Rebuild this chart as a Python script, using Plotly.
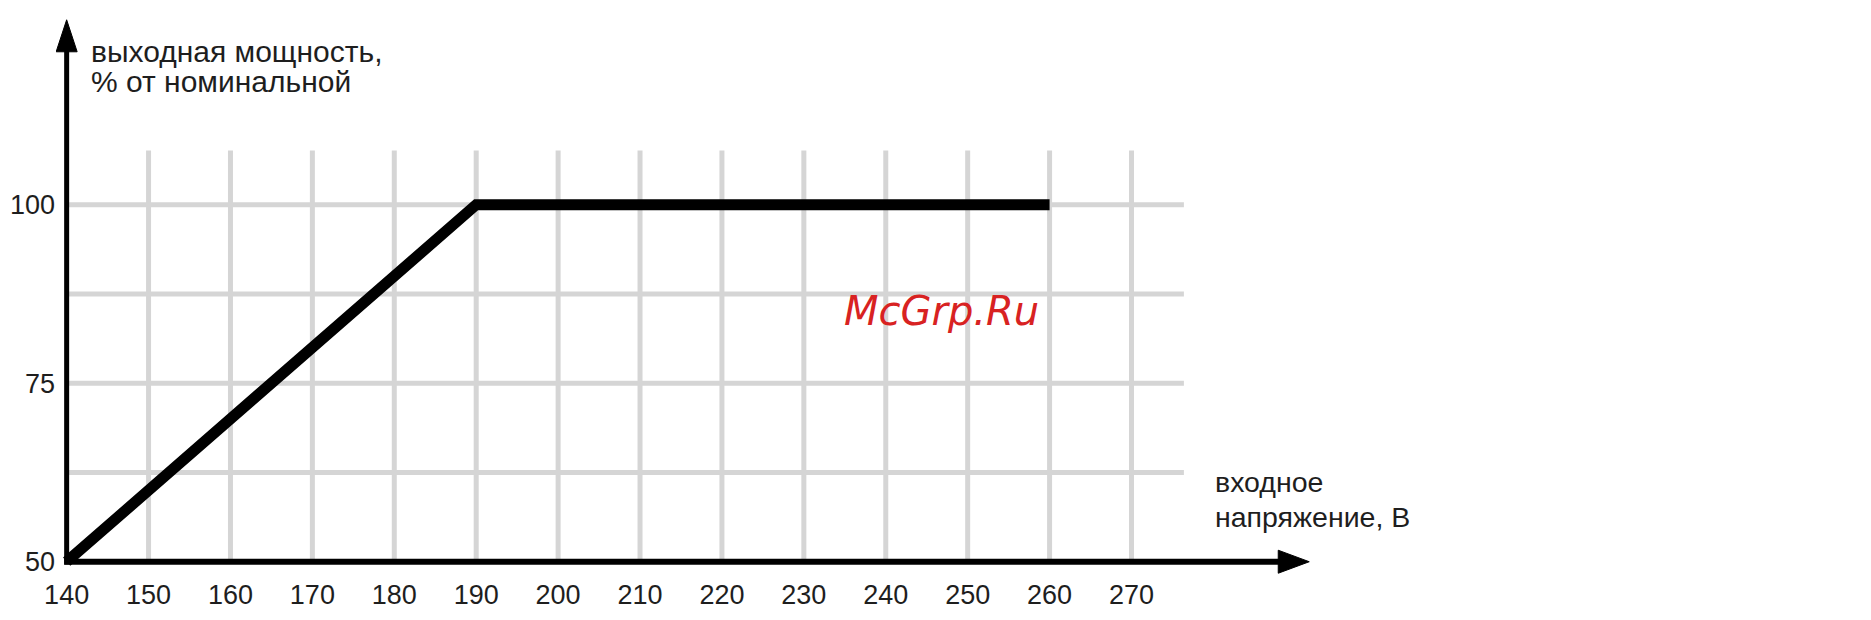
import plotly.graph_objects as go

# ---- data ----
voltage = [140, 190, 260]          # input voltage, V
power = [50, 100, 100]             # output power, % of nominal

x_ticks = [140, 150, 160, 170, 180, 190, 200, 210, 220, 230, 240, 250, 260, 270]
y_ticks = [50, 75, 100]
y_grid = [62.5, 75, 87.5, 100]
x_grid = [150, 160, 170, 180, 190, 200, 210, 220, 230, 240, 250, 260, 270]

y_title_lines = ["выходная мощность,", "% от номинальной"]
x_title_lines = ["входное", "напряжение, В"]
watermark = "McGrp.Ru"

# ---- layout geometry (page has an 8px body margin) ----
W, H = 1855, 604
ML, MR, MT, MB = 44, 543, 2, 36
XPX = 8.217   # px per volt
YPX = 7.14    # px per percent
x0r = 138.7
y0r = 48.0
x_range = [x0r, x0r + (W - ML - MR) / XPX]
y_range = [y0r, y0r + (H - MT - MB) / YPX]

X_ORIGIN, Y_ORIGIN = 140, 50
X_TIP = 291.7
Y_TIP = 125.9
GRID_TOP = 107.6
GRID_RIGHT = 276.4

FONT = "Liberation Sans, Arial, sans-serif"
TXT = "#1e1e1e"
GRID = "#d5d5d5"

fig = go.Figure()
fig.add_trace(go.Scatter(
    x=voltage, y=power, mode="lines",
    line=dict(color="black", width=11),
    hoverinfo="skip", showlegend=False, cliponaxis=False,
))

shapes = []
for gx in x_grid:
    shapes.append(dict(type="line", xref="x", yref="y", x0=gx, x1=gx, y0=Y_ORIGIN, y1=GRID_TOP,
                       line=dict(color=GRID, width=5), layer="below"))
for gy in y_grid:
    shapes.append(dict(type="line", xref="x", yref="y", x0=X_ORIGIN, x1=GRID_RIGHT, y0=gy, y1=gy,
                       line=dict(color=GRID, width=5), layer="below"))
# axes
shapes.append(dict(type="line", xref="x", yref="y", x0=X_ORIGIN - 0.3, x1=X_TIP - 2.5,
                   y0=Y_ORIGIN, y1=Y_ORIGIN, line=dict(color="black", width=6), layer="above"))
shapes.append(dict(type="line", xref="x", yref="y", x0=X_ORIGIN, x1=X_ORIGIN,
                   y0=Y_ORIGIN - 0.4, y1=Y_TIP - 3, line=dict(color="black", width=5), layer="above"))
# arrowheads
shapes.append(dict(type="path", xref="x", yref="y", xsizemode="pixel", ysizemode="pixel",
                   xanchor=X_TIP, yanchor=Y_ORIGIN,
                   path="M-31,-11.5 L0,0 L-31,11.5 Z",
                   fillcolor="black", line=dict(color="black", width=1), layer="above"))
shapes.append(dict(type="path", xref="x", yref="y", xsizemode="pixel", ysizemode="pixel",
                   xanchor=X_ORIGIN, yanchor=Y_TIP,
                   path="M-10.5,-32 L0,0 L10.5,-32 Z",
                   fillcolor="black", line=dict(color="black", width=1), layer="above"))

annotations = []
# y-axis title (two lines)
for txt, yv in zip(y_title_lines, [121.4, 117.3]):
    annotations.append(dict(text=txt, xref="x", yref="y", x=142.7, y=yv, xanchor="left",
                            yanchor="middle", showarrow=False,
                            font=dict(family=FONT, size=30, color=TXT)))
# x-axis title (two lines)
for txt, yv in zip(x_title_lines, [61.2, 56.3]):
    annotations.append(dict(text=txt, xref="x", yref="y", x=280.0, y=yv, xanchor="left",
                            yanchor="middle", showarrow=False,
                            font=dict(family=FONT, size=28.5, color=TXT)))
# watermark
annotations.append(dict(text=watermark, xref="x", yref="y", x=246.75, y=85.1,
                        xanchor="center", yanchor="middle", showarrow=False,
                        font=dict(family="DejaVu Sans", size=40, color="#d82222", style="italic")))

fig.update_layout(
    width=W, height=H,
    margin=dict(l=ML, r=MR, t=MT, b=MB, pad=0),
    paper_bgcolor="white", plot_bgcolor="white",
    showlegend=False,
    shapes=shapes, annotations=annotations,
    xaxis=dict(range=x_range, tickmode="array", tickvals=x_ticks,
               ticktext=[str(v) for v in x_ticks],
               showgrid=False, zeroline=False, showline=False, ticks="",
               tickfont=dict(family=FONT, size=27, color=TXT), fixedrange=True),
    yaxis=dict(range=y_range, tickmode="array", tickvals=y_ticks,
               ticktext=[str(v) for v in y_ticks],
               showgrid=False, zeroline=False, showline=False, ticks="",
               tickfont=dict(family=FONT, size=27, color=TXT), fixedrange=True),
)

fig.write_html("out.html")
